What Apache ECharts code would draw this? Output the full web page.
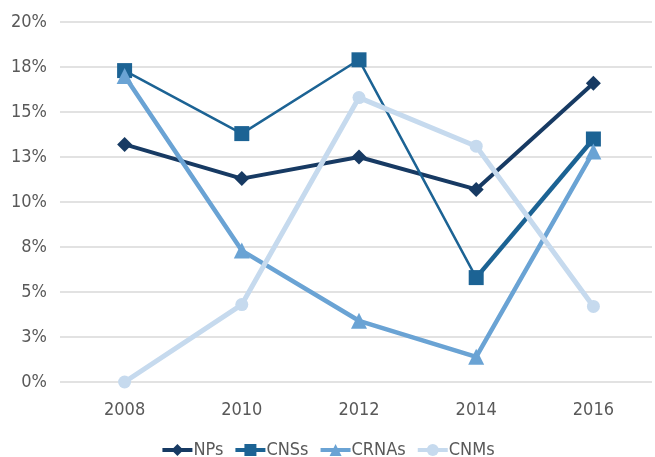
<!DOCTYPE html>
<html>
<head>
<meta charset="utf-8">
<script src="https://cdn.jsdelivr.net/npm/echarts@6/dist/echarts.min.js"></script>
<style>
  html, body { margin: 0; padding: 0; background: #fff; }
  #chart { width: 655px; height: 457px; }
</style>
</head>
<body>
<div id="chart"></div>
<script>
// values (percent)
var years = ["2008", "2010", "2012", "2014", "2016"];
var nps = [13.2, 11.3, 12.5, 10.7, 16.6];
var cnss = [17.3, 13.8, 17.9, 5.8, 13.5];
var crnas = [17.0, 7.3, 3.4, 1.4, 12.8];
var cnms = [0, 4.3, 15.8, 13.1, 4.2];

var FONT = "'DejaVu Sans Condensed', 'Liberation Sans Narrow', sans-serif";
var TEXT = "#595959";

var chart = echarts.init(document.getElementById("chart"));

// Excel draws the last CNSs segment heavier than the rest
var cnssTail = cnss.map(function (v, i) { return i >= cnss.length - 2 ? v : null; });

chart.setOption({
  backgroundColor: "#fff",
  animation: false,
  textStyle: { fontFamily: FONT },
  grid: { left: 66, right: 3, top: 22, bottom: 75 },
  xAxis: {
    type: "category",
    data: years,
    boundaryGap: true,
    axisLine: { show: false },
    axisTick: { show: false },
    axisLabel: { color: TEXT, fontSize: 18, fontFamily: FONT, margin: 19 }
  },
  yAxis: {
    type: "value",
    min: 0,
    max: 20,
    interval: 2.5,
    axisLine: { show: false },
    axisTick: { show: true, length: 6, lineStyle: { color: "#d9d9d9", width: 1.5 } },
    splitLine: { lineStyle: { color: "#d9d9d9", width: 1.5 } },
    axisLabel: {
      color: TEXT, fontSize: 18, fontFamily: FONT, margin: 19,
      formatter: function (v) { return Math.round(v) + "%"; }
    }
  },
  legend: {
    top: 436,
    left: "center",
    itemWidth: 30,
    itemHeight: 15,
    itemGap: 10,
    data: [
      { name: "NPs", lineStyle: { width: 4 } },
      { name: "CNSs", lineStyle: { width: 4 } },
      { name: "CRNAs", lineStyle: { width: 4 } },
      { name: "CNMs", lineStyle: { width: 4 } }
    ],
    textStyle: { color: TEXT, fontSize: 18, fontFamily: FONT, padding: [0, 0, 0, -4] }
  },
  series: [
    {
      name: "NPs", type: "line", data: nps,
      symbol: "diamond", symbolSize: 15,
      lineStyle: { color: "#173a63", width: 4 },
      itemStyle: { color: "#173a63" }
    },
    {
      name: "CNSs", type: "line", data: cnss,
      symbol: "rect", symbolSize: 15,
      lineStyle: { color: "#1c6394", width: 2.5 },
      itemStyle: { color: "#1c6394" }
    },
    {
      name: "CNSs", type: "line", data: cnssTail,
      symbol: "none", z: 1,
      lineStyle: { color: "#1c6394", width: 4.5 },
      itemStyle: { color: "#1c6394" }
    },
    {
      name: "CRNAs", type: "line", data: crnas,
      symbol: "triangle", symbolSize: 16,
      lineStyle: { color: "#6aa3d4", width: 4.5 },
      itemStyle: { color: "#6aa3d4" }
    },
    {
      name: "CNMs", type: "line", data: cnms,
      symbol: "circle", symbolSize: 13,
      lineStyle: { color: "#c6daee", width: 5 },
      itemStyle: { color: "#c6daee" }
    }
  ]
});
</script>
</body>
</html>
